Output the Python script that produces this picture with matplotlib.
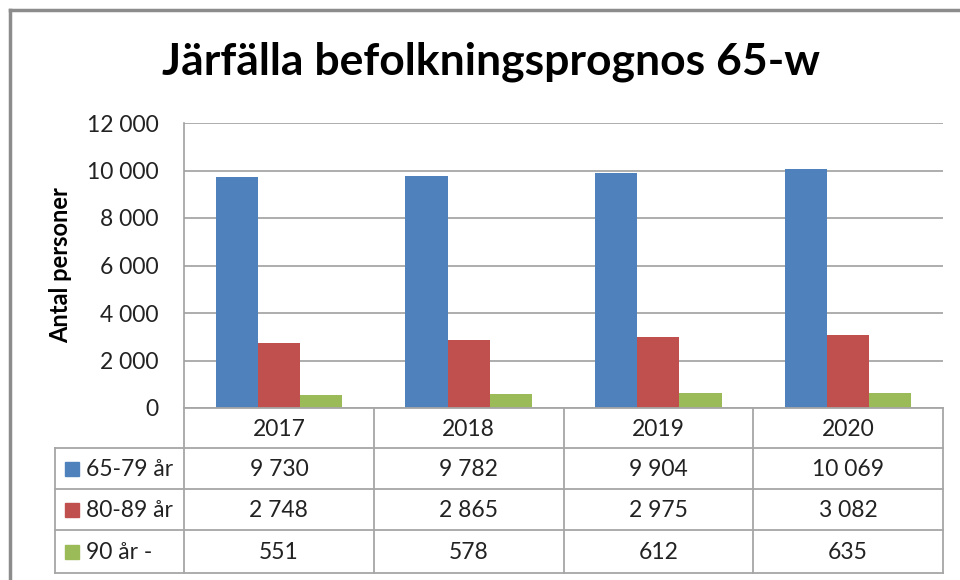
import matplotlib.pyplot as plt
import numpy as np

# data
years = ["2017", "2018", "2019", "2020"]
series_names = ["65-79 år", "80-89 år", "90 år -"]
age_65_79 = [9730, 9782, 9904, 10069]
age_80_89 = [2748, 2865, 2975, 3082]
age_90 = [551, 578, 612, 635]
colors = ["#4F81BD", "#C0504D", "#9BBB59"]

plt.rcParams['font.family'] = ['Lato', 'DejaVu Sans']

def fmt(v):
    return f"{v:,}".replace(",", " ")

W, H = 960, 580
fs = 16.5
fig = plt.figure(figsize=(9.6, 5.8), dpi=100)

# plot area in pixels
L, R, T, B = 184, 943, 123, 408
ax = fig.add_axes([L / W, 1 - B / H, (R - L) / W, (B - T) / H])

values = [age_65_79, age_80_89, age_90]
x = np.arange(len(years))
bw = 0.222
for i, (vals, c) in enumerate(zip(values, colors)):
    ax.bar(x + (i - 1) * bw, vals, bw, color=c, zorder=3)

ax.set_xlim(-0.5, len(years) - 0.5)
ax.set_ylim(0, 12000)
ax.set_yticks(range(0, 12001, 2000))
ax.set_yticklabels([fmt(v) for v in range(0, 12001, 2000)], fontsize=fs)
ax.set_xticks([])
ax.yaxis.grid(True, color="#A0A0A0", linewidth=1.2, zorder=0)
ax.tick_params(axis="y", length=0, pad=18, colors="#222222")
for s in ["top", "right", "bottom"]:
    ax.spines[s].set_visible(False)
ax.spines["left"].set_color("#A0A0A0")
ax.spines["left"].set_linewidth(1.2)
ax.set_ylabel("Antal personer", fontsize=17, fontweight="bold")
ax.yaxis.set_label_coords(-(L - 72) / (R - L), 0.5)

# overlay in pixel coords for the data table and frame
ov = fig.add_axes([0, 0, 1, 1], zorder=5)
ov.set_xlim(0, W)
ov.set_ylim(H, 0)
ov.axis("off")
ov.patch.set_alpha(0)

lc = "#A6A6A6"
lw = 1.3
col_edges = np.linspace(L, R, len(years) + 1)
row_edges = [408, 448, 489, 530, 573]
tl = 55

# horizontal lines
ov.plot([L, R], [row_edges[0], row_edges[0]], color=lc, lw=lw)
for yy in row_edges[1:]:
    ov.plot([tl, R], [yy, yy], color=lc, lw=lw)
# vertical lines
for xx in col_edges:
    ov.plot([xx, xx], [row_edges[0], row_edges[-1]], color=lc, lw=lw)
ov.plot([tl, tl], [row_edges[1], row_edges[-1]], color=lc, lw=lw)

# header
for j, yr in enumerate(years):
    cx = (col_edges[j] + col_edges[j + 1]) / 2
    ov.text(cx, (row_edges[0] + row_edges[1]) / 2 + 1, yr, ha="center", va="center",
            fontsize=fs, color="#222222")

for i, (name, vals, c) in enumerate(zip(series_names, values, colors)):
    cy = (row_edges[i + 1] + row_edges[i + 2]) / 2
    ov.add_patch(plt.Rectangle((65, cy - 7), 14, 14, color=c))
    ov.text(86, cy + 1, name, ha="left", va="center", fontsize=fs, color="#222222")
    for j, v in enumerate(vals):
        cx = (col_edges[j] + col_edges[j + 1]) / 2
        ov.text(cx, cy + 1, fmt(v), ha="center", va="center", fontsize=fs, color="#222222")

# chart frame
ov.plot([10, 10], [10, H], color="#8C8C8C", lw=2.5)
ov.plot([10, W], [10, 10], color="#8C8C8C", lw=2.5)

ov.text(491, 62, "Järfälla befolkningsprognos 65-w", ha="center", va="center",
        fontsize=32, fontweight="bold", color="black")

fig.savefig("out.png", dpi=100)
